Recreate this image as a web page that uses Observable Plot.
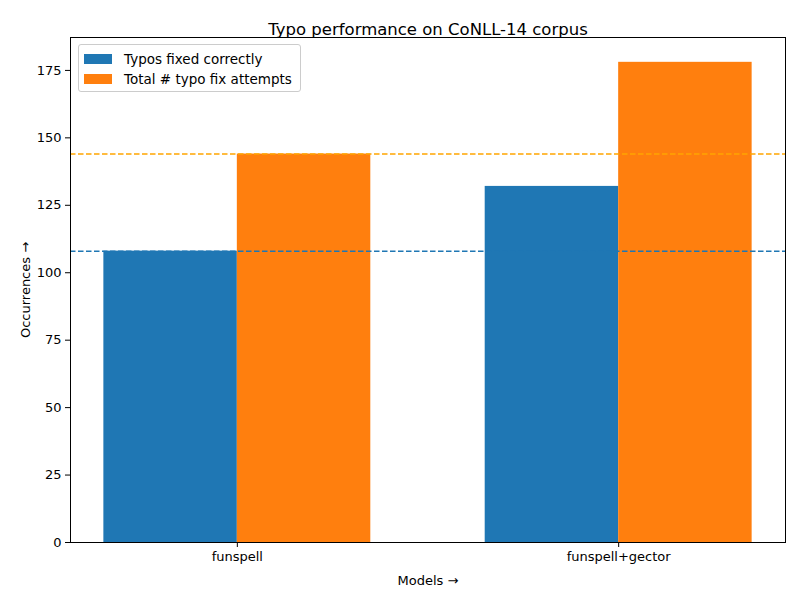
<!DOCTYPE html>
<html>
<head>
<meta charset="UTF-8">
<style>
  body { margin: 0; background: #fff; font-family: "DejaVu Sans", sans-serif; }
  #wrap { position: relative; width: 800px; height: 600px; }
  #legend { position: absolute; left: 78px; top: 44px; border: 1px solid #ccc; border-radius: 3px;
            background: rgba(255,255,255,0.8); padding: 4px 8px 2px 5px; font-size: 13.5px; }
  #legend div { display: flex; align-items: center; height: 20px; }
  #legend span.sw { display: inline-block; width: 28px; height: 10px; margin-right: 12px; }
</style>
</head>
<body>
<div id="wrap">
  <div id="chart"></div>
  <div id="legend"></div>
</div>
<script src="https://cdn.jsdelivr.net/npm/d3@7"></script>
<script src="https://cdn.jsdelivr.net/npm/@observablehq/plot@0.6"></script>
<script>
  const models = ["funspell", "funspell+gector"];
  const fixedCorrectly = [108, 132];
  const totalAttempts = [144, 178];
  const seriesNames = ["Typos fixed correctly", "Total # typo fix attempts"];
  const colors = ["#1f77b4", "#ff7f0e"];
  const barWidth = 0.35;

  const bars = [];
  models.forEach((m, i) => {
    bars.push({ x1: i - barWidth, x2: i, y: fixedCorrectly[i], s: 0 });
    bars.push({ x1: i, x2: i + barWidth, y: totalAttempts[i], s: 1 });
  });

  const chart = Plot.plot({
    width: 800,
    height: 600,
    marginLeft: 70,
    marginRight: 15,
    marginTop: 37,
    marginBottom: 58,
    style: { fontFamily: "DejaVu Sans, sans-serif", fontSize: "13px", color: "#000" },
    x: { domain: [-0.4375, 1.4375], ticks: [0, 1], tickFormat: i => models[i], label: "Models",
         labelAnchor: "center", labelOffset: 42, tickSize: 5 },
    y: { domain: [0, 187.2], ticks: d3.range(0, 176, 25), label: "Occurrences",
         labelAnchor: "center", labelOffset: 50, tickSize: 5 },
    marks: [
      Plot.rectY(bars, { x1: "x1", x2: "x2", y: "y", fill: d => colors[d.s] }),
      Plot.ruleY([fixedCorrectly[0]], { stroke: "#1f77b4", strokeWidth: 1.5, strokeDasharray: "5.5,2.5" }),
      Plot.ruleY([totalAttempts[0]], { stroke: "orange", strokeWidth: 1.5, strokeDasharray: "5.5,2.5" }),
      Plot.frame({ stroke: "#000" }),
      Plot.text(["Typo performance on CoNLL-14 corpus"], { frameAnchor: "top", dy: -14, fontSize: 16.5, fill: "#000" })
    ]
  });
  chart.querySelectorAll("[aria-label='x-axis label'] text, [aria-label='y-axis label'] text").forEach(t => t.style.fontSize = "13px");
  document.getElementById("chart").append(chart);

  const legend = document.getElementById("legend");
  seriesNames.forEach((n, i) => {
    const row = document.createElement("div");
    row.innerHTML = `<span class="sw" style="background:${colors[i]}"></span>${n}`;
    legend.append(row);
  });
</script>
</body>
</html>
